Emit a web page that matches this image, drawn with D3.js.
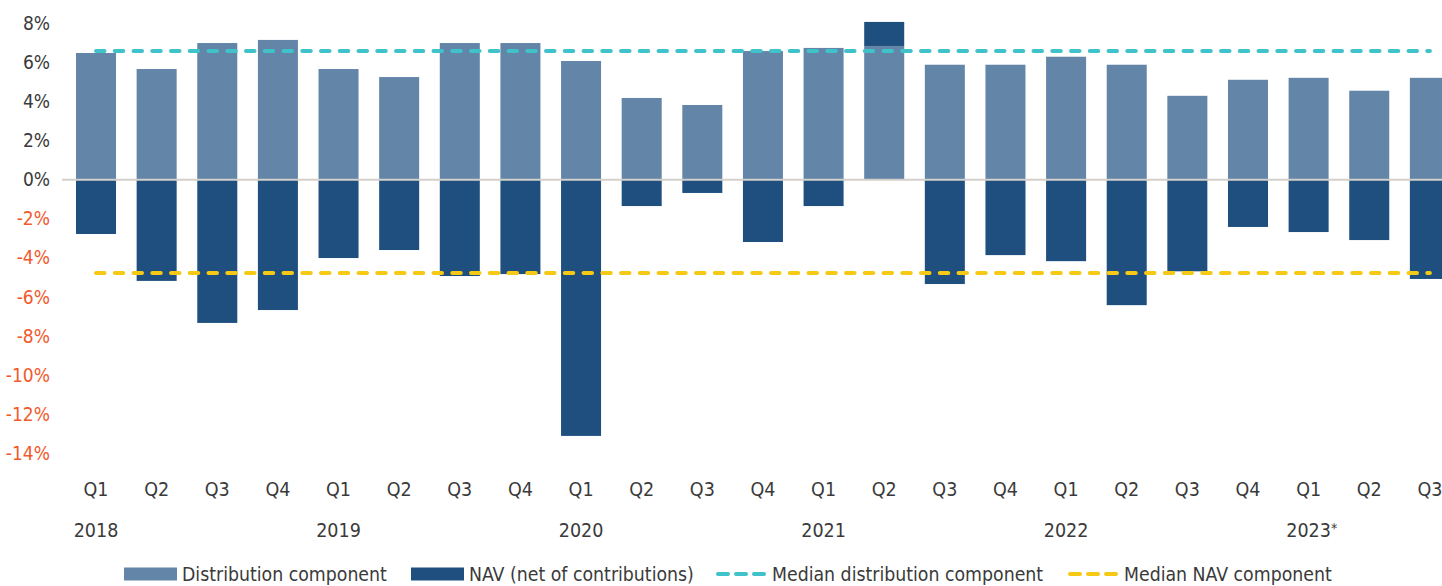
<!DOCTYPE html>
<html>
<head>
<meta charset="utf-8">
<script src="https://cdn.jsdelivr.net/npm/d3@7"></script>
<style>
  body { margin: 0; background: #fff; }
  svg text { font-family: 'Liberation Sans Narrow', 'DejaVu Sans Condensed', 'Arial Narrow', sans-serif; }
</style>
</head>
<body>
<script>
const width = 1442;
const height = 586;

const quarters = ['Q1', 'Q2', 'Q3', 'Q4', 'Q1', 'Q2', 'Q3', 'Q4', 'Q1', 'Q2', 'Q3', 'Q4',
    'Q1', 'Q2', 'Q3', 'Q4', 'Q1', 'Q2', 'Q3', 'Q4', 'Q1', 'Q2', 'Q3'];
const periods = ['2018 Q1', '2018 Q2', '2018 Q3', '2018 Q4', '2019 Q1', '2019 Q2', '2019 Q3', '2019 Q4',
    '2020 Q1', '2020 Q2', '2020 Q3', '2020 Q4', '2021 Q1', '2021 Q2', '2021 Q3', '2021 Q4',
    '2022 Q1', '2022 Q2', '2022 Q3', '2022 Q4', '2023 Q1', '2023 Q2', '2023 Q3'];
const years = ['2018', '2019', '2020', '2021', '2022', '2023'];
const year_starts = ['2018 Q1', '2019 Q1', '2020 Q1', '2021 Q1', '2022 Q1', '2023 Q1'];
const year_marks = ['', '', '', '', '', '*'];

const distribution = [6.48, 5.66, 6.99, 7.15, 5.66, 5.25, 6.99, 6.99, 6.07, 4.18, 3.82, 6.58,
    6.74, 6.84, 5.88, 5.88, 6.29, 5.88, 4.29, 5.11, 5.21, 4.55, 5.21];
const nav = [-2.78, -5.18, -7.33, -6.67, -4.01, -3.60, -4.93, -4.83, -13.11, -1.35, -0.68, -3.19,
    -1.35, 1.23, -5.34, -3.86, -4.17, -6.42, -4.69, -2.42, -2.68, -3.09, -5.08];
const median_distribution = 6.58;
const median_nav = -4.78;
const y_ticks = [8, 6, 4, 2, 0, -2, -4, -6, -8, -10, -12, -14];

const legend_items = [
    {label: 'Distribution component', type: 'rect', color: '#6285a8'},
    {label: 'NAV (net of contributions)', type: 'rect', color: '#1f4f7f'},
    {label: 'Median distribution component', type: 'dash', color: '#3fc2c9'},
    {label: 'Median NAV component', type: 'dash', color: '#f6c915'}
];
const legend_x = [124, 411, 716, 1068];

const table = periods.map((p, i) => ({period: p, dist: distribution[i], nav: nav[i]}));
const series = d3.stack()
    .keys(['dist', 'nav'])
    .offset(d3.stackOffsetDiverging)(table);

const x = d3.scaleBand()
    .domain(periods)
    .range([65.7, 65.7 + 23 * 60.63])
    .paddingInner(0.34)
    .paddingOuter(0.17);
const y = d3.scaleLinear()
    .domain([-14, 8])
    .range([453.3, 23.3]);

const svg = d3.select('body')
    .append('svg')
    .attr('width', width)
    .attr('height', height);

// bars
svg.append('g')
    .attr('class', 'bars')
    .selectAll('g')
    .data(series)
    .enter()
    .append('g')
    .attr('fill', (d, i) => legend_items[i].color)
    .selectAll('rect')
    .data(d => d)
    .enter()
    .append('rect')
    .attr('x', d => x(d.data.period))
    .attr('width', x.bandwidth())
    .attr('y', d => y(Math.max(d[0], d[1])))
    .attr('height', d => Math.abs(y(d[0]) - y(d[1])));

// zero line
svg.append('line')
    .attr('x1', 62)
    .attr('x2', width)
    .attr('y1', y(0))
    .attr('y2', y(0))
    .attr('stroke', '#d3cfcb')
    .attr('stroke-width', 2);

// median lines
const first_c = x(periods[0]) + x.bandwidth() / 2;
const last_c = x(periods[periods.length - 1]) + x.bandwidth() / 2;
[[median_distribution, legend_items[2].color], [median_nav, legend_items[3].color]].forEach(m => {
    svg.append('line')
        .attr('x1', first_c)
        .attr('x2', last_c)
        .attr('y1', y(m[0]))
        .attr('y2', y(m[0]))
        .attr('stroke', m[1])
        .attr('stroke-width', 4)
        .attr('stroke-linecap', 'round')
        .attr('stroke-dasharray', '8.5 10.25');
});

// y axis
const y_axis = svg.append('g')
    .attr('transform', 'translate(50,0)')
    .call(d3.axisLeft(y).tickValues(y_ticks).tickSize(0).tickPadding(0).tickFormat(d => d + '%'));
y_axis.select('.domain').remove();
y_axis.selectAll('text')
    .attr('font-size', 19)
    .attr('fill', d => d < 0 ? '#f2592b' : '#3a3a3a');

// x axis
const x_axis = svg.append('g')
    .attr('transform', 'translate(0,482)')
    .call(d3.axisBottom(x).tickSize(0).tickPadding(0).tickFormat((d, i) => quarters[i]));
x_axis.select('.domain').remove();
x_axis.selectAll('text')
    .attr('font-size', 19.5)
    .attr('fill', '#3a3a3a');

// years
svg.append('g')
    .selectAll('text')
    .data(years)
    .enter()
    .append('text')
    .attr('x', (d, i) => x(year_starts[i]) + x.bandwidth() / 2)
    .attr('y', 537)
    .attr('font-size', 19.5)
    .attr('fill', '#3a3a3a')
    .attr('text-anchor', 'middle')
    .text(d => d)
    .each(function (d, i) {
        if (year_marks[i]) {
            const w = this.getComputedTextLength();
            d3.select(this).attr('text-anchor', 'start')
                .attr('x', x(year_starts[i]) + x.bandwidth() / 2 - w / 2)
                .append('tspan')
                .attr('font-size', 14)
                .attr('dy', -4)
                .text(year_marks[i]);
        }
    });

// legend
const legend = svg.append('g')
    .selectAll('g')
    .data(legend_items)
    .enter()
    .append('g')
    .attr('transform', (d, i) => `translate(${legend_x[i]},574)`);
legend.filter(d => d.type === 'rect')
    .append('rect')
    .attr('x', 0)
    .attr('y', -6.5)
    .attr('width', 53)
    .attr('height', 13)
    .attr('fill', d => d.color);
legend.filter(d => d.type === 'dash')
    .append('line')
    .attr('x1', 2)
    .attr('x2', 50)
    .attr('stroke', d => d.color)
    .attr('stroke-width', 4)
    .attr('stroke-linecap', 'round')
    .attr('stroke-dasharray', '10 8');
legend.append('text')
    .attr('x', d => d.type === 'rect' ? 58 : 56)
    .attr('dy', '0.35em')
    .attr('font-size', 19.3)
    .attr('fill', '#3a3a3a')
    .text(d => d.label);
</script>
</body>
</html>
